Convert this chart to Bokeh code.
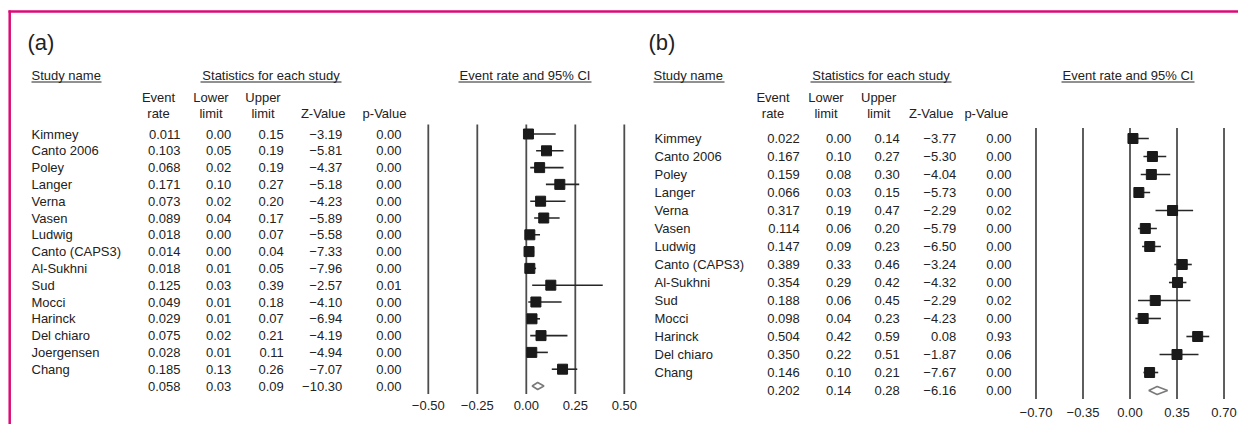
from bokeh.plotting import figure
from bokeh.models import Range1d, ColumnDataSource
from bokeh.core.properties import value
from bokeh.embed import file_html
from bokeh.resources import INLINE

# ---------------- data: panel (a) ----------------
studies_a = ["Kimmey", "Canto 2006", "Poley", "Langer", "Verna", "Vasen", "Ludwig",
             "Canto (CAPS3)", "Al-Sukhni", "Sud", "Mocci", "Harinck", "Del chiaro",
             "Joergensen", "Chang"]
rate_a = [0.011, 0.103, 0.068, 0.171, 0.073, 0.089, 0.018, 0.014, 0.018, 0.125,
          0.049, 0.029, 0.075, 0.028, 0.185]
lower_a = [0.00, 0.05, 0.02, 0.10, 0.02, 0.04, 0.00, 0.00, 0.01, 0.03,
           0.01, 0.01, 0.02, 0.01, 0.13]
upper_a = [0.15, 0.19, 0.19, 0.27, 0.20, 0.17, 0.07, 0.04, 0.05, 0.39,
           0.18, 0.07, 0.21, 0.11, 0.26]
z_a = [-3.19, -5.81, -4.37, -5.18, -4.23, -5.89, -5.58, -7.33, -7.96, -2.57,
       -4.10, -6.94, -4.19, -4.94, -7.07]
p_a = [0.00, 0.00, 0.00, 0.00, 0.00, 0.00, 0.00, 0.00, 0.00, 0.01,
       0.00, 0.00, 0.00, 0.00, 0.00]
pooled_a = [0.058, 0.03, 0.09, -10.30, 0.00]
ticks_a = [-0.50, -0.25, 0.00, 0.25, 0.50]

# ---------------- data: panel (b) ----------------
studies_b = ["Kimmey", "Canto 2006", "Poley", "Langer", "Verna", "Vasen", "Ludwig",
             "Canto (CAPS3)", "Al-Sukhni", "Sud", "Mocci", "Harinck", "Del chiaro",
             "Chang"]
rate_b = [0.022, 0.167, 0.159, 0.066, 0.317, 0.114, 0.147, 0.389, 0.354, 0.188,
          0.098, 0.504, 0.350, 0.146]
lower_b = [0.00, 0.10, 0.08, 0.03, 0.19, 0.06, 0.09, 0.33, 0.29, 0.06,
           0.04, 0.42, 0.22, 0.10]
upper_b = [0.14, 0.27, 0.30, 0.15, 0.47, 0.20, 0.23, 0.46, 0.42, 0.45,
           0.23, 0.59, 0.51, 0.21]
z_b = [-3.77, -5.30, -4.04, -5.73, -2.29, -5.79, -6.50, -3.24, -4.32, -2.29,
       -4.23, 0.08, -1.87, -7.67]
p_b = [0.00, 0.00, 0.00, 0.00, 0.02, 0.00, 0.00, 0.00, 0.00, 0.02,
       0.00, 0.93, 0.06, 0.00]
pooled_b = [0.202, 0.14, 0.28, -6.16, 0.00]
ticks_b = [-0.70, -0.35, 0.00, 0.35, 0.70]

col_titles_top = ["Event", "Lower", "Upper", "", ""]
col_titles_bottom = ["rate", "limit", "limit", "Z-Value", "p-Value"]

# ---------------- layout (page pixels) ----------------
W, H = 1238, 424
X0, Y0 = 0, 0
FONT = "Liberation Sans"
TXT = "#222222"
BORDER = "#dc0a78"

LAYOUT_A = dict(label="(a)", label_x=27, name_x=31,
                col_right=[180, 230.7, 283.3, 341.7, 401],
                col_center=[158, 210.5, 262.5, 322.7, 384],
                study_ul=(31, 101), stats_ul=(200, 341), ci_ul=(458, 591),
                zero=525.8, scale=196.0, row0=133.5, rowh=16.8,
                line_y=(124, 393.5), tick_y=405, dia_h=0.21)
LAYOUT_B = dict(label="(b)", label_x=648, name_x=654,
                col_right=[799.3, 850.7, 899.3, 955.7, 1011],
                col_center=[772.5, 825.5, 878.2, 930.8, 985.8],
                study_ul=(653, 724), stats_ul=(810, 951), ci_ul=(1061, 1194),
                zero=1129.5, scale=134.3, row0=138.0, rowh=18.0,
                line_y=(127.5, 398.5), tick_y=411.8, dia_h=0.22)

p = figure(width=W, height=H, x_range=Range1d(X0, X0 + W), y_range=Range1d(Y0 + H, Y0),
           output_backend="svg", toolbar_location=None, min_border=0,
           x_axis_location=None, y_axis_location=None)
p.xgrid.grid_line_color = None
p.ygrid.grid_line_color = None
p.outline_line_color = None
p.background_fill_color = "white"
p.border_fill_color = "white"

extra_x, extra_y = {}, {}
for key, L in (("a", LAYOUT_A), ("b", LAYOUT_B)):
    extra_x["f" + key] = Range1d((X0 - L["zero"]) / L["scale"], (X0 + W - L["zero"]) / L["scale"])
    extra_y["r" + key] = Range1d((Y0 + H - L["row0"]) / L["rowh"], (Y0 - L["row0"]) / L["rowh"])
p.extra_x_ranges = extra_x
p.extra_y_ranges = extra_y

# page border (top and left)
p.segment(x0=[8, 9.2], y0=[11, 10], x1=[X0 + W, 9.2], y1=[11, Y0 + H],
          line_color=BORDER, line_width=2.5)


def txt(x, y, s, align="left", size="13px", **kw):
    p.text(x=x, y=y, text=s, text_align=align, text_baseline="middle",
           text_font=value(FONT), text_font_size=size, text_color=TXT, **kw)


def fmt(v, d):
    return f"{v:.{d}f}".replace("-", "\u2212")


def panel(key, L, names, rate, lower, upper, z, pv, pooled, ticks):
    xr, yr = "f" + key, "r" + key
    n = len(names)
    rows = list(range(n))
    # titles
    txt([L["label_x"]], [42], [L["label"]], size="22px")
    txt([L["study_ul"][0]], [74.5], ["Study name"])
    txt([(L["stats_ul"][0] + L["stats_ul"][1]) / 2], [74.5], ["Statistics for each study"], align="center")
    txt([(L["ci_ul"][0] + L["ci_ul"][1]) / 2], [74.5], ["Event rate and 95% CI"], align="center")
    uls = [L["study_ul"], L["stats_ul"], L["ci_ul"]]
    p.segment(x0=[u[0] for u in uls], x1=[u[1] for u in uls], y0=[81.5] * 3, y1=[81.5] * 3,
              line_color=TXT, line_width=1)
    # column headers
    txt(L["col_center"], [96.7] * 5, col_titles_top, align="center")
    txt(L["col_center"], [113.3] * 5, col_titles_bottom, align="center")
    # study names
    txt([L["name_x"]] * n, rows, names, y_range_name=yr)
    # numeric columns (studies + pooled row)
    all_rows = rows + [n]
    cols = [
        [fmt(v, 3) for v in rate] + [fmt(pooled[0], 3)],
        [fmt(v, 2) for v in lower] + [fmt(pooled[1], 2)],
        [fmt(v, 2) for v in upper] + [fmt(pooled[2], 2)],
        [fmt(v, 2) for v in z] + [fmt(pooled[3], 2)],
        [fmt(v, 2) for v in pv] + [fmt(pooled[4], 2)],
    ]
    for xr_right, col in zip(L["col_right"], cols):
        txt([xr_right] * len(col), all_rows, col, align="right", y_range_name=yr)
    # reference lines and tick labels
    p.segment(x0=ticks, x1=ticks, y0=[L["line_y"][0]] * len(ticks), y1=[L["line_y"][1]] * len(ticks),
              x_range_name=xr, line_color="#4d4d4d", line_width=1.8)
    txt(ticks, [L["tick_y"]] * len(ticks), [fmt(t, 2) for t in ticks], align="center", x_range_name=xr)
    # confidence intervals and point estimates
    src = ColumnDataSource(dict(rate=rate, lo=lower, hi=upper, row=rows))
    p.segment(x0="lo", x1="hi", y0="row", y1="row", source=src, x_range_name=xr, y_range_name=yr,
              line_color="#262626", line_width=1.6)
    p.scatter(x="rate", y="row", source=src, marker="square", size=10, x_range_name=xr,
              y_range_name=yr, fill_color="#1a1a1a", line_color="#1a1a1a")
    # pooled diamond
    h = L["dia_h"]
    p.patch(x=[pooled[1], pooled[0], pooled[2], pooled[0]], y=[n, n - h, n, n + h],
            x_range_name=xr, y_range_name=yr, fill_color="white", line_color="#7a7a7a",
            line_width=1.6)


panel("a", LAYOUT_A, studies_a, rate_a, lower_a, upper_a, z_a, p_a, pooled_a, ticks_a)
panel("b", LAYOUT_B, studies_b, rate_b, lower_b, upper_b, z_b, p_b, pooled_b, ticks_b)

open("out.html", "w").write(file_html(p, INLINE))
